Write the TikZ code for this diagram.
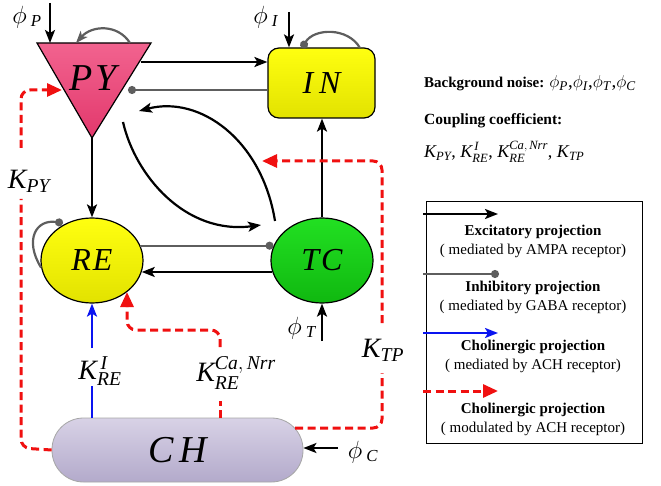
\documentclass[tikz,border=0pt]{standalone}
\usepackage{amsmath}
\usepackage{fontspec}
\setmainfont{Liberation Serif}
\usetikzlibrary{arrows.meta,shapes.geometric}
\newcommand{\fsz}[1]{\fontsize{#1}{#1}\selectfont}
\newcommand{\phisub}[1]{$\phi$\,\textsubscript{\textit{#1}}}
\newcommand{\phitight}[1]{$\phi$\textsubscript{\textit{#1}}}
\definecolor{inhgray}{HTML}{5E5E5E}
\definecolor{cholblue}{HTML}{0A14F0}
\definecolor{modred}{HTML}{F01010}
\definecolor{pytop}{HTML}{F2638F}
\definecolor{pybot}{HTML}{E2386C}
\definecolor{chtop}{HTML}{D8D2E6}
\definecolor{chbot}{HTML}{B3AACB}
\definecolor{ylwtop}{HTML}{FFFF10}
\definecolor{ylwbot}{HTML}{E2E200}
\definecolor{grntop}{HTML}{22E022}
\definecolor{grnbot}{HTML}{10B810}
\begin{document}
\begin{tikzpicture}[x=1pt,y=-1pt,
  exc/.style={line width=2.2pt,-{Stealth[length=13pt,width=10pt,inset=3pt]}},
  gexc/.style={line width=2.2pt,draw=inhgray,-{Stealth[length=12pt,width=9pt,inset=3pt]}},
  inh/.style={line width=2.2pt,draw=inhgray,-{Circle[length=8pt]},inhgray},
  chol/.style={line width=2.2pt,draw=cholblue,-{Stealth[length=13pt,width=10pt,inset=3pt]}},
  mod/.style={line width=3pt,draw=modred,dash pattern=on 8pt off 4.5pt,rounded corners=9pt},
  modtip/.style={-{Triangle[length=15pt,width=13pt]}},
  cell/.style={draw,line width=1.2pt,inner sep=0pt,font=\fsz{32}\itshape},
  leglab/.style={font=\fsz{15}},
  lab/.style={inner sep=0pt}
]
\useasboundingbox (0,0) rectangle (661,486);

% ---- cells
\path[draw,line width=1.2pt,top color=pytop,bottom color=pybot]
  (37,43) coordinate (PYtl) -- (151,43) coordinate (PYtr) -- (92,138) coordinate (PYb) -- cycle;
\node[lab,font=\fsz{38}\itshape] (PY) at (93,78) {P\hspace{3pt}Y};
\node[cell,rectangle,rounded corners=11pt,minimum width=107pt,minimum height=70pt,
      top color=ylwtop,bottom color=ylwbot] (IN) at (321.5,83) {I\hspace{6pt}N};
\node[cell,ellipse,minimum width=102pt,minimum height=85pt,
      top color=ylwtop,bottom color=ylwbot] (RE) at (92,260.5) {R\hspace{2pt}E};
\node[cell,ellipse,minimum width=102pt,minimum height=85pt,
      top color=grntop,bottom color=grnbot] (TC) at (322,260.5) {T\hspace{2pt}C};
\node[draw=gray!70,line width=0.8pt,inner sep=0pt,rectangle,rounded corners=31.5pt,minimum width=251pt,minimum height=64pt,
      top color=chtop,bottom color=chbot,font=\fsz{38}\itshape] (CH) at (177.5,450) {C\hspace{6pt}H};

% ---- coordinates
\coordinate (phiPs) at (50,3);
\coordinate (phiPe) at (50,43);
\coordinate (phiIs) at (289,12);
\coordinate (phiTs) at (322,341);
\coordinate (phiCs) at (338,448);
\coordinate (pyR1) at (141,62);
\coordinate (pyR2) at (128,90);
\coordinate (pyL) at (62,90);
\coordinate (c1s) at (275,221);
\coordinate (c1e) at (139,111);
\coordinate (c2s) at (123,122);
\coordinate (c2e) at (261,225);
\coordinate (ktpTip) at (262,161);

% ---- labels
\node[lab,font=\fsz{24}] (lphiP) at (27,17) {\phisub{P}};
\node[lab,font=\fsz{24}] (lphiI) at (266,17) {\phisub{I}};
\node[lab,font=\fsz{24}] (lphiT) at (302,328) {\phisub{T}};
\node[lab,font=\fsz{24}] (lphiC) at (363,452) {\phisub{C}};
\node[lab,font=\fsz{28}] (KPY) at (29,181) {$\textit{K}_{\textit{PY}}$};
\node[lab,font=\fsz{28}] (KREI) at (100,371) {$\textit{K}^{\,\textit{I}}_{\textit{RE}}$};
\node[lab,font=\fsz{28}] (KRECa) at (236,373) {$\textit{K}^{\textit{Ca},\,\textit{Nrr}}_{\textit{RE}}$};
\node[lab,font=\fsz{28}] (KTP) at (383,350) {$\textit{K}_{\textit{TP}}$};

% ---- excitatory / inhibitory
\draw[exc] (phiPs) -- (phiPe);
\draw[exc] (phiIs) -- (phiIs |- IN.north);
\draw[exc] (phiTs) -- (TC.south);
\draw[exc] (phiCs) -- (phiCs -| CH.east);
\draw[gexc] (130,43) coordinate (ls1) .. controls (118,24) and (92,25) .. (76,43);
\draw[exc] (pyR1) -- (pyR1 -| IN.west);
\draw[inh] (pyR2 -| IN.west) -- (pyR2);
\draw[inh] (360,48) coordinate (ls2) .. controls (348,27) and (314,28) .. (302,48);
\draw[exc] (TC.north) -- (TC.north |- IN.south);
\draw[exc] (PYb) -- (RE.north);
\draw[inh] (RE.188) .. controls (24,240) and (36,219) .. (63,223);
\draw[inh] (RE.17) -- (TC.163);
\draw[exc] (TC.193) -- (RE.-13);
\draw[exc] (c1s) .. controls (262,140) and (200,95) .. (c1e);
\draw[exc] (c2s) .. controls (135,175) and (185,235) .. (c2e);

% ---- cholinergic
\draw[line width=2.2pt,draw=cholblue] (CH.north -| RE.south) -- (92,386);
\draw[chol] (92,348) -- (RE.south);

% K_PY
\draw[mod] (CH.west) -- (21,448) -- (21,199);
\draw[mod,modtip] (21,148) -- (21,90) -- (pyL);
% K_RE^Ca
\draw[mod] (220,418) -- (220,401);
\draw[mod,modtip] (220,347) -- (220,330) -- (127,330) -- (127,292);
% K_TP
\draw[mod] (295,428) -- (382,428) -- (382,373);
\draw[mod,modtip] (382,323) -- (382,161) -- (ktpTip);

% ---- right side text
\node[anchor=west,lab] (bgn) at (424,83) {\fsz{15}\textbf{Background noise:} \fsz{19}\phitight{P},\phitight{I},\phitight{T},\phitight{C}};
\node[anchor=west,lab] (cc) at (424,121) {\fsz{15.5}\textbf{Coupling coefficient:}};
\node[anchor=west,lab,font=\fsz{18}] (kl) at (424,152) {$\textit{K}_{\textit{PY}}$, $\textit{K}^{\,\textit{I}}_{\textit{RE}}$, $\textit{K}^{\textit{Ca},\,\textit{Nrr}}_{\textit{RE}}$, $\textit{K}_{\textit{TP}}$};

% ---- legend
\node[draw,line width=1pt,minimum width=216pt,minimum height=241pt,inner sep=0pt] (leg) at (534,322.5) {};
\coordinate (l1) at (423,214);
\coordinate (l2) at (423,274);
\coordinate (l3) at (423,333);
\coordinate (l4) at (423,391);
\draw[exc] (l1) -- (498,214);
\draw[inh] (l2) -- (499,274);
\draw[chol] (l3) -- (498,333);
\draw[mod,modtip] (l4) -- (498,391);
\node[leglab] (t1a) at (533,232) {\textbf{Excitatory projection}};
\node[leglab] (t1b) at (533,251) {( mediated by AMPA receptor)};
\node[leglab] (t2a) at (533,288) {\textbf{Inhibitory projection}};
\node[leglab] (t2b) at (533,307) {( mediated by GABA receptor)};
\node[leglab] (t3a) at (533,347) {\textbf{Cholinergic projection}};
\node[leglab] (t3b) at (533,366) {( mediated by ACH receptor)};
\node[leglab] (t4a) at (533,410) {\textbf{Cholinergic projection}};
\node[leglab] (t4b) at (533,429) {( modulated by ACH receptor)};
\end{tikzpicture}
\end{document}
